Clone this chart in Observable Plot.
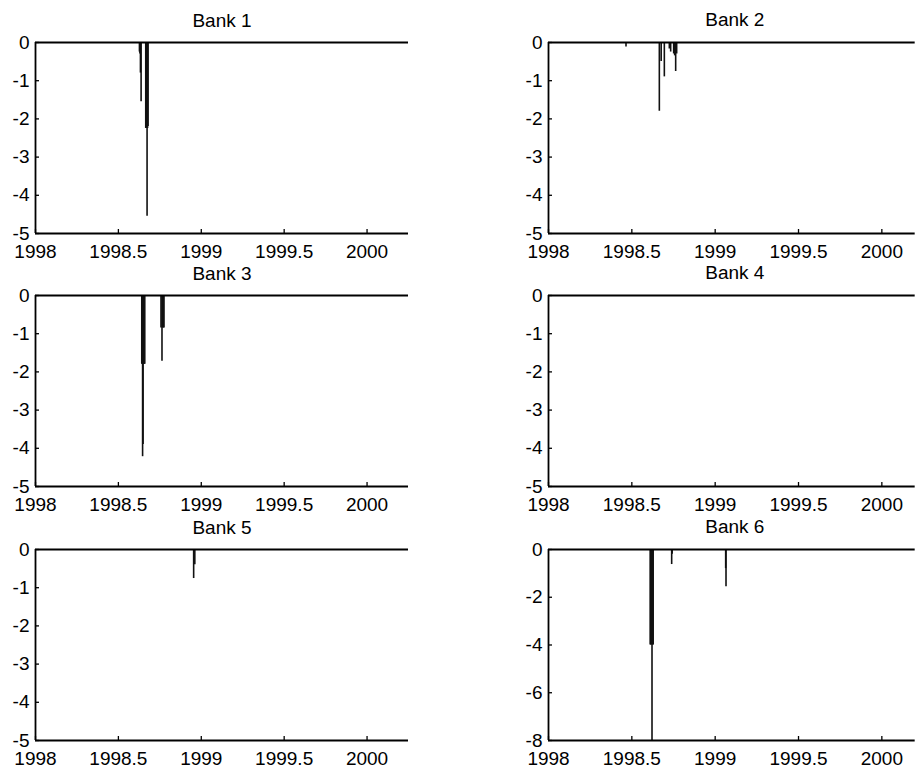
<!DOCTYPE html>
<html>
<head>
<meta charset="utf-8">
<script src="https://cdn.jsdelivr.net/npm/d3@7"></script>
<script src="https://cdn.jsdelivr.net/npm/@observablehq/plot@0.6"></script>
<style>
html, body { margin: 0; padding: 0; background: #fff; }
#fig { position: relative; width: 915px; height: 774px; overflow: hidden; background: #fff; }
#fig svg { position: absolute; max-width: none; }
</style>
</head>
<body>
<div id="fig"></div>
<script>
// ---- data ----
const bankNames = ["Bank 1", "Bank 2", "Bank 3", "Bank 4", "Bank 5", "Bank 6"];
const xTicks = [1998, 1998.5, 1999, 1999.5, 2000];
const yTicksFive = [0, -1, -2, -3, -4, -5];
const yTicksEight = [0, -2, -4, -6, -8];
const baseline = 0;

const bank1Dates  = [1998.627, 1998.630, 1998.633, 1998.637, 1998.665, 1998.668, 1998.673, 1998.676, 1998.679];
const bank1Values = [-0.25, -0.3, -0.8, -1.55, -2.25, -2.25, -4.55, -2.25, -2.2];

const bank2Dates  = [1998.465, 1998.665, 1998.676, 1998.695, 1998.725, 1998.733, 1998.751, 1998.757, 1998.763, 1998.769];
const bank2Values = [-0.12, -1.8, -0.5, -0.9, -0.17, -0.25, -0.3, -0.35, -0.76, -0.3];

const bank3Dates  = [1998.641, 1998.644, 1998.646, 1998.649, 1998.652, 1998.656, 1998.659, 1998.757, 1998.763, 1998.767, 1998.771, 1998.775];
const bank3Values = [-1.8, -1.8, -4.22, -3.9, -1.8, -1.8, -1.8, -0.85, -1.72, -0.85, -0.85, -0.85];

const bank4Dates  = [];
const bank4Values = [];

const bank5Dates  = [1998.954, 1998.961];
const bank5Values = [-0.76, -0.4];

const bank6Dates  = [1998.610, 1998.614, 1998.618, 1998.621, 1998.625, 1998.628, 1998.739, 1998.742, 1999.063, 1999.065];
const bank6Values = [-4.0, -4.0, -4.0, -8.0, -4.0, -4.0, -0.63, -0.2, -0.8, -1.56];

// ---- layout ----
const panels = [
  {name: bankNames[0], dates: bank1Dates, values: bank1Values, yTicks: yTicksFive,  col: 0, row: 0},
  {name: bankNames[1], dates: bank2Dates, values: bank2Values, yTicks: yTicksFive,  col: 1, row: 0},
  {name: bankNames[2], dates: bank3Dates, values: bank3Values, yTicks: yTicksFive,  col: 0, row: 1},
  {name: bankNames[3], dates: bank4Dates, values: bank4Values, yTicks: yTicksFive,  col: 1, row: 1},
  {name: bankNames[4], dates: bank5Dates, values: bank5Values, yTicks: yTicksFive,  col: 0, row: 2},
  {name: bankNames[5], dates: bank6Dates, values: bank6Values, yTicks: yTicksEight, col: 1, row: 2}
];
const colLeft = [35, 548.3];
const colPlotW = [373, 366.7];
const colXMax = [2000.25, 2000.2];
const colTitleDx = [0, 3];
const rowTop = [42, 295, 549];
const plotH = 191;
const mL = 40, mT = 40, mB = 34, mR = 0;
const fontFamily = "'Liberation Sans', Arial, Helvetica, sans-serif";

const fig = document.getElementById("fig");

for (const p of panels) {
  const rows = p.dates.map((d, i) => ({date: d, value: p.values[i]}));
  const yMin = d3.min(p.yTicks), yMax = d3.max(p.yTicks);
  const xMin = xTicks[0], xMax = colXMax[p.col];
  const pw = colPlotW[p.col];
  const chart = Plot.plot({
    width: mL + pw + mR,
    height: mT + plotH + mB,
    marginLeft: mL, marginRight: mR, marginTop: mT, marginBottom: mB,
    style: {fontFamily, fontSize: "19px", background: "transparent", overflow: "visible", color: "#000"},
    x: {domain: [xMin, xMax], label: null},
    y: {domain: [yMin, yMax], label: null},
    marks: [
      // spikes
      Plot.ruleX(rows, {x: "date", y1: baseline, y2: "value", stroke: "#111", strokeWidth: 1.6}),
      // zero line (series level)
      Plot.ruleY([baseline], {stroke: "#000", strokeWidth: 2.2}),
      // axis lines (left & bottom)
      Plot.ruleX([xMin], {stroke: "#000", strokeWidth: 1.8}),
      Plot.ruleY([yMin], {stroke: "#000", strokeWidth: 1.8}),
      // inward ticks
      Plot.tickX(xTicks, {x: d => d, insetTop: plotH - 4, stroke: "#000", strokeWidth: 1.3}),
      Plot.tickY(p.yTicks, {y: d => d, insetRight: pw - 4, stroke: "#000", strokeWidth: 1.3}),
      // axes labels
      Plot.axisX({ticks: xTicks, tickSize: 0, tickPadding: 11, tickFormat: d => String(d), label: null, fill: "#000", fontSize: 19}),
      Plot.axisY({ticks: p.yTicks, tickSize: 0, tickPadding: 6, tickFormat: d => String(d), label: null, fill: "#000", fontSize: 19}),
      // title
      Plot.text([p.name], {text: d => d, frameAnchor: "top", lineAnchor: "bottom", dy: -16, dx: colTitleDx[p.col], fontSize: 19, fill: "#000"})
    ]
  });
  chart.style.left = (colLeft[p.col] - mL) + "px";
  chart.style.top = (rowTop[p.row] - mT) + "px";
  fig.appendChild(chart);
}
</script>
</body>
</html>
